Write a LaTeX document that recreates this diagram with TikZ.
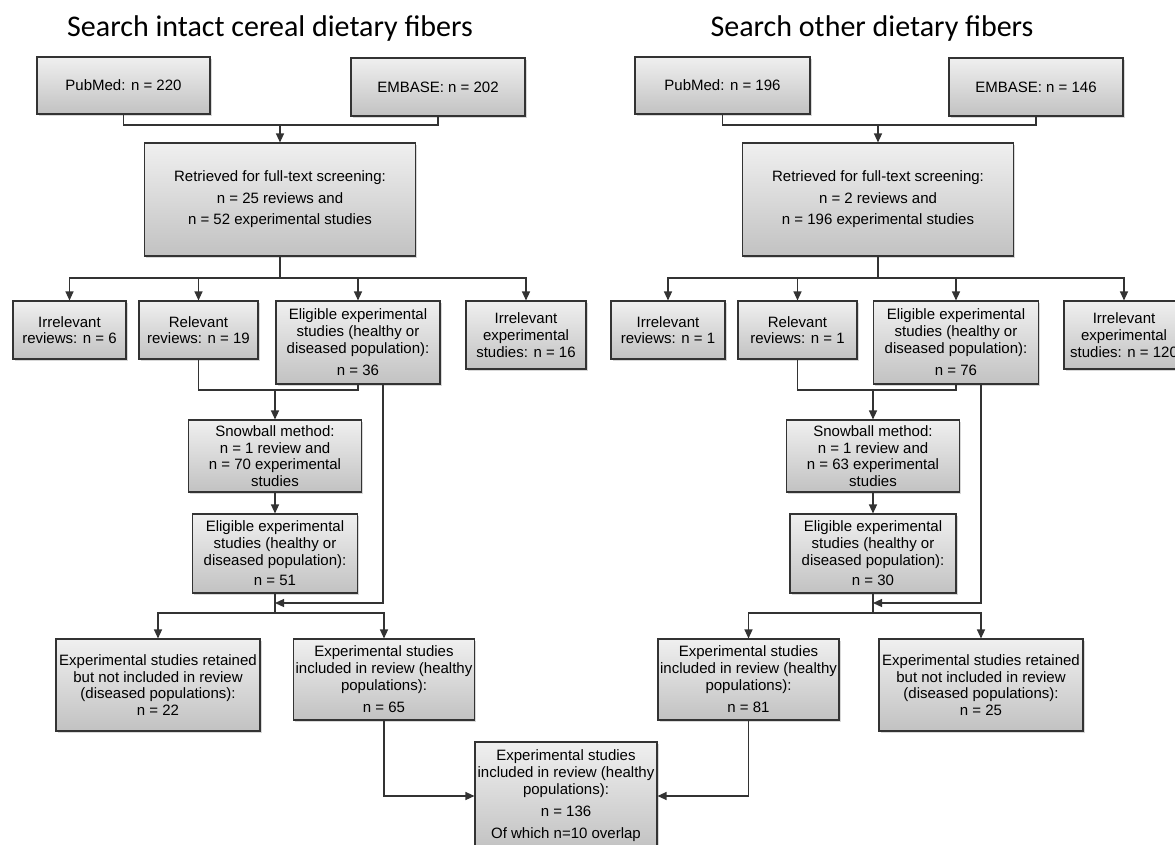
\documentclass[tikz,border=0pt]{standalone}
\usepackage{fontspec}
\setmainfont{Liberation Sans}
\newfontfamily\titlefont{Carlito}
\usetikzlibrary{arrows.meta,shadows}

\tikzset{
  box/.style={draw=black!80, line width=1.1pt, top color=black!6, bottom color=black!24,
    drop shadow={shadow xshift=1.5pt, shadow yshift=-2pt, opacity=0.3},
    align=center, inner sep=0pt, font=\fontsize{15}{16.7}\selectfont},
  wide/.style={font=\fontsize{15}{21.5}\selectfont},
  head/.style={font=\titlefont\fontsize{30}{36}\selectfont, anchor=base},
  link/.style={draw=black!80, line width=1.2pt},
}

\begin{document}
\begin{tikzpicture}[x=1pt, y=-1pt, >={Triangle[length=9pt,width=8pt]}]
  \clip (0,0) rectangle (1175,845);
  \fill[white] (0,0) rectangle (1175,845);
  % titulos
  \node[head] (hL) at (270,37) {Search intact cereal dietary fibers};
  \node[head] (hR) at (872,37) {Search other dietary fibers};

  % busqueda izquierda
  \node[box, minimum width=173pt, minimum height=57pt] (pubL) at (123.5,85.5) {PubMed: n = 220};
  \node[box, minimum width=174pt, minimum height=58pt] (embL) at (438,87) {EMBASE: n = 202};
  \node[box, wide, minimum width=271pt, minimum height=113pt] (retL) at (280,199.5)
    {Retrieved for full-text screening:\\ n = 25 reviews and\\ n = 52 experimental studies};
  \node[box, minimum width=113pt, minimum height=58pt] (irrL) at (69.5,330) {Irrelevant\\ reviews: n = 6};
  \node[box, minimum width=119pt, minimum height=58pt] (relL) at (198.5,330) {Relevant\\ reviews: n = 19};
  \node[box, minimum width=164pt, minimum height=83pt] (eliL) at (358,342.5)
    {Eligible experimental\\ studies (healthy or\\ diseased population):\\[6pt] n = 36};
  \node[box, minimum width=120pt, minimum height=68pt] (irxL) at (526,335)
    {Irrelevant\\ experimental\\ studies: n = 16};
  \node[box, minimum width=173pt, minimum height=72pt] (snoL) at (275,456)
    {Snowball method:\\ n = 1 review and\\ n = 70 experimental\\ studies};
  \node[box, minimum width=165pt, minimum height=79pt] (el2L) at (275,553.5)
    {Eligible experimental\\ studies (healthy or\\ diseased population):\\[4pt] n = 51};
  \node[box, minimum width=204pt, minimum height=92pt] (retnL) at (158,685)
    {Experimental studies retained\\ but not included in review\\ (diseased populations):\\ n = 22};
  \node[box, minimum width=181pt, minimum height=81pt] (incL) at (384,679.5)
    {Experimental studies\\ included in review (healthy\\ populations):\\[6pt] n = 65};

  % busqueda derecha
  \node[box, minimum width=175pt, minimum height=57pt] (pubR) at (722.5,85.5) {PubMed: n = 196};
  \node[box, minimum width=174pt, minimum height=58pt] (embR) at (1036,87) {EMBASE: n = 146};
  \node[box, wide, minimum width=271pt, minimum height=113pt] (retR) at (878,199.5)
    {Retrieved for full-text screening:\\ n = 2 reviews and\\ n = 196 experimental studies};
  \node[box, minimum width=114pt, minimum height=58pt] (irrR) at (668,330) {Irrelevant\\ reviews: n = 1};
  \node[box, minimum width=119pt, minimum height=58pt] (relR) at (797.5,330) {Relevant\\ reviews: n = 1};
  \node[box, minimum width=165pt, minimum height=83pt] (eliR) at (956,342.5)
    {Eligible experimental\\ studies (healthy or\\ diseased population):\\[6pt] n = 76};
  \node[box, minimum width=120pt, minimum height=68pt] (irxR) at (1124,335)
    {Irrelevant\\ experimental\\ studies: n = 120};
  \node[box, minimum width=173pt, minimum height=72pt] (snoR) at (873,456)
    {Snowball method:\\ n = 1 review and\\ n = 63 experimental\\ studies};
  \node[box, minimum width=166pt, minimum height=79pt] (el2R) at (873,553.5)
    {Eligible experimental\\ studies (healthy or\\ diseased population):\\[4pt] n = 30};
  \node[box, minimum width=181pt, minimum height=81pt] (incR) at (748.5,679.5)
    {Experimental studies\\ included in review (healthy\\ populations):\\[6pt] n = 81};
  \node[box, minimum width=204pt, minimum height=92pt] (retnR) at (981,685)
    {Experimental studies retained\\ but not included in review\\ (diseased populations):\\ n = 25};

  % total
  \node[box, minimum width=182pt, minimum height=108pt] (tot) at (566,796)
    {Experimental studies\\ included in review (healthy\\ populations):\\[5pt] n = 136\\[6pt] Of which n=10 overlap};

  % uniones
  \coordinate (jL1) at (280,125);
  \coordinate (jL2) at (280,278);
  \coordinate (jL3) at (275,390);
  \coordinate (jL4) at (275,603);
  \coordinate (jL5) at (275,613);
  \coordinate (jR1) at (878,125);
  \coordinate (jR2) at (878,278);
  \coordinate (jR3) at (873,390);
  \coordinate (jR4) at (873,603);
  \coordinate (jR5) at (873,613);

  % conectores izquierda
  \draw[link] (pubL.south) |- (jL1) -| (embL.south);
  \draw[link,->] (jL1) -- (retL.north);
  \draw[link] (retL.south) -- (jL2);
  \foreach \b in {irrL,relL,eliL,irxL}
    \draw[link,->] (jL2) -| (\b.north);
  \draw[link] (relL.south) |- (jL3) -| (eliL.south);
  \draw[link,->] (jL3) -- (snoL.north);
  \draw[link,->] (snoL.south) -- (el2L.north);
  \draw[link,->] ([xshift=25pt]eliL.south) |- (jL4);
  \draw[link] (el2L.south) -- (jL5);
  \draw[link,->] (jL5) -| (retnL.north);
  \draw[link,->] (jL5) -| (incL.north);
  \draw[link,->] (incL.south) |- (tot.west);

  % conectores derecha
  \draw[link] (pubR.south) |- (jR1) -| (embR.south);
  \draw[link,->] (jR1) -- (retR.north);
  \draw[link] (retR.south) -- (jR2);
  \foreach \b in {irrR,relR,eliR,irxR}
    \draw[link,->] (jR2) -| (\b.north);
  \draw[link] (relR.south) |- (jR3) -| (eliR.south);
  \draw[link,->] (jR3) -- (snoR.north);
  \draw[link,->] (snoR.south) -- (el2R.north);
  \draw[link,->] ([xshift=25pt]eliR.south) |- (jR4);
  \draw[link] (el2R.south) -- (jR5);
  \draw[link,->] (jR5) -| (incR.north);
  \draw[link,->] (jR5) -| (retnR.north);
  \draw[link,->] (incR.south) |- (tot.east);
\end{tikzpicture}
\end{document}
